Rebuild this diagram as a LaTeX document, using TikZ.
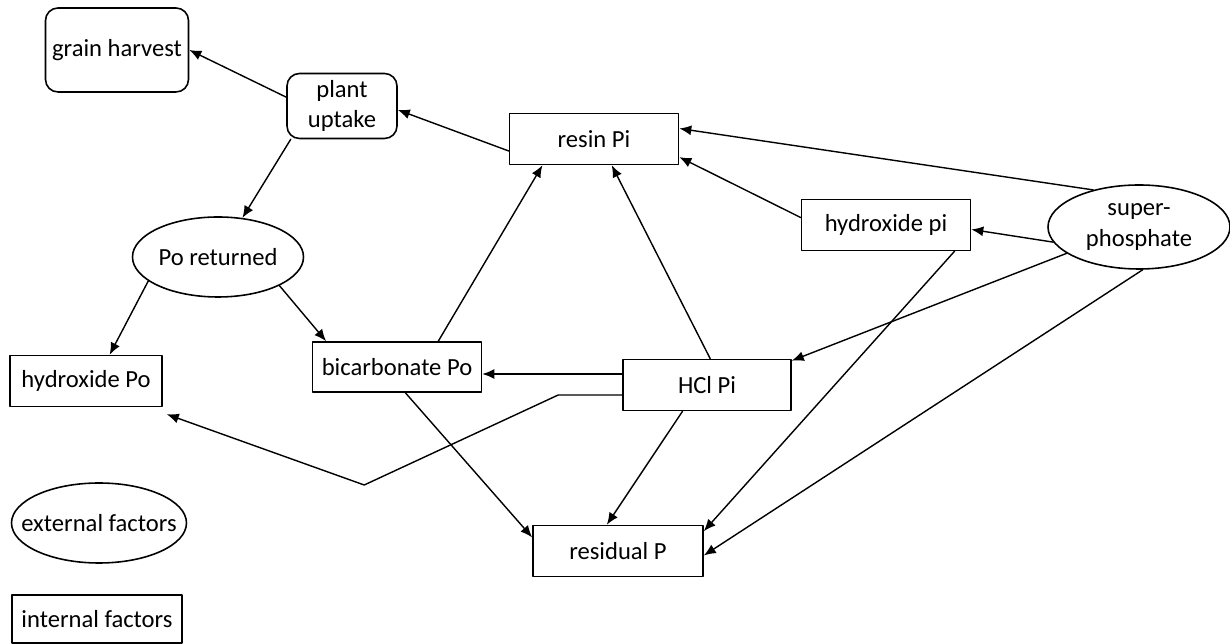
\documentclass[tikz,border=0pt]{standalone}
\usepackage{fontspec}
\setmainfont{Carlito}
\usetikzlibrary{arrows.meta,shapes.geometric}

\begin{document}
\begin{tikzpicture}[
    line cap=round,
    line join=round,
    every node/.style={font=\fontsize{14}{17.5}\selectfont, align=center, inner sep=0pt},
    box/.style={draw, line width=0.9pt, rectangle},
    rbox/.style={draw, line width=0.9pt, rectangle, rounded corners=2.5mm},
    oval/.style={draw, line width=0.9pt, ellipse, inner xsep=-1.5cm},
    flow/.style={line width=0.8pt, -{Latex[length=2.4mm,width=2mm]}}
]

\useasboundingbox (0,0) rectangle (24.6,12.88);

% Nodi
\node[rbox, minimum width=2.86cm, minimum height=1.68cm] (grain) at (2.34,11.88) {grain harvest};
\node[rbox, minimum width=2.2cm, minimum height=1.3cm] (plant) at (6.84,10.76) {plant\\uptake};
\node[box, minimum width=3.38cm, minimum height=1.02cm] (resin) at (11.88,10.10) {resin Pi};
\node[box, minimum width=3.38cm, minimum height=1.02cm] (hydpi) at (17.72,8.38) {hydroxide pi};
\node[oval, minimum width=3.64cm, minimum height=1.68cm] (super) at (22.78,8.34) {super-\\phosphate};
\node[oval, minimum width=3.42cm, minimum height=1.6cm] (poret) at (4.36,7.74) {Po returned};
\node[box, minimum width=3.04cm, minimum height=1.02cm] (hydpo) at (1.72,5.26) {hydroxide Po};
\node[box, minimum width=3.38cm, minimum height=1.0cm] (bicarb) at (7.94,5.54) {bicarbonate Po};
\node[box, minimum width=3.36cm, minimum height=1.02cm] (hcl) at (14.14,5.18) {HCl Pi};
\node[box, minimum width=3.4cm, minimum height=1.02cm] (resid) at (12.36,1.86) {residual P};

% Legenda
\node[oval, minimum width=3.5cm, minimum height=1.6cm] (ext) at (1.98,2.42) {external factors};
\node[box, minimum width=3.4cm, minimum height=0.96cm] (int) at (1.94,0.5) {internal factors};

% Frecce
\draw[flow] (plant.171) -- (grain.east);
\draw[flow] (resin.188) -- (plant.-4);
\draw[flow] (plant.213) -- (poret.58);
\draw[flow] (poret.199) -- (hydpo.48);
\draw[flow] (poret.-25) -- (bicarb.160);
\draw[flow] (bicarb.32) -- (resin.207);
\draw[flow] (hcl.83) -- (resin.-56);
\draw[flow] (super.141) -- (resin.7);
\draw[flow] (hydpi.175) -- (resin.-12);
\draw[flow] (super.190) -- (hydpi.-3);
\draw[flow] (super.200) -- (hcl.16);
\draw[flow] (super.-85) -- (resid.-3);
\draw[flow] (hydpi.-21) -- (resid.13);
\draw[flow] (hcl.227) -- (resid.113);
\draw[flow] (bicarb.-72) -- (resid.171);
\draw[flow] ([yshift=2.2mm]hcl.west) coordinate (h1) -- (h1 -| bicarb.east);

% HCl Pi verso hydroxide Po, con due pieghe
\draw[flow] ([yshift=-2mm]hcl.west) -- ++(-1.28,0) -- ++(-3.88,-1.8)
    -- ([xshift=0.8mm,yshift=-1.4mm]hydpo.south east);

\end{tikzpicture}
\end{document}
